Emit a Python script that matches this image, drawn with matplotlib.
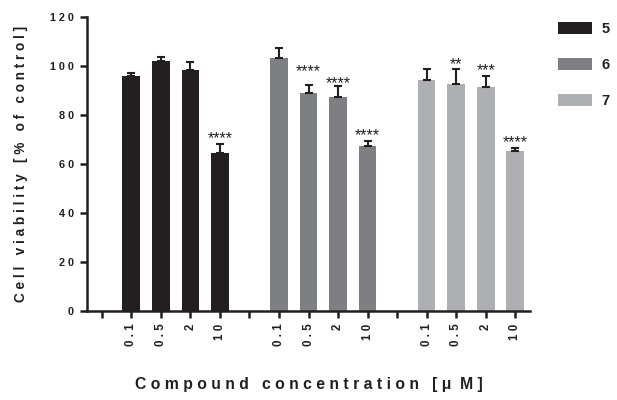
import matplotlib

matplotlib.use("Agg")
import matplotlib.pyplot as plt
import numpy as np

plt.rcParams["font.family"] = ["Liberation Sans", "DejaVu Sans"]

# data
compounds = ["5", "6", "7"]
concentrations = ["0.1", "0.5", "2", "10"]
means_5 = [96.0, 102.0, 98.2, 64.5]
means_6 = [103.3, 88.8, 87.3, 67.2]
means_7 = [94.4, 92.6, 91.4, 65.4]
err_5 = [1.0, 1.5, 3.3, 3.8]
err_6 = [4.2, 3.3, 4.4, 2.3]
err_7 = [4.3, 6.0, 4.6, 1.2]
stars_5 = ["", "", "", "****"]
stars_6 = ["", "****", "****", "****"]
stars_7 = ["", "**", "***", "****"]

colors = ["#231f20", "#7e7f83", "#aeafb2"]
ink = "#231f20"


def _spaced(text: str) -> str:
    return " ".join(text)


fig = plt.figure(figsize=(6.17, 4.0), dpi=100)
ax = fig.add_axes([87 / 617, 1 - 311 / 400, 443 / 617, 294 / 400])

all_means = [means_5, means_6, means_7]
all_errs = [err_5, err_6, err_7]
all_stars = [stars_5, stars_6, stars_7]

tick_pos = []
tick_lab = []
slot = 0
handles = []
for g, name in enumerate(compounds):
    tick_pos.append(slot)
    tick_lab.append("")
    slot += 1
    xs = np.arange(slot, slot + len(concentrations))
    bars = ax.bar(xs, all_means[g], width=0.6, color=colors[g], zorder=2)
    handles.append(bars)
    ax.errorbar(
        xs,
        all_means[g],
        yerr=[np.zeros(len(xs)), all_errs[g]],
        fmt="none",
        ecolor=ink,
        elinewidth=1.5,
        capsize=3,
        capthick=1.5,
        zorder=3,
    )
    stars = all_stars[g]
    tops = [m + e for m, e in zip(all_means[g], all_errs[g])]
    for i, x in enumerate(xs):
        label = stars[i]
        if label:
            lift = 0.3
            # stagger neighbouring wide labels that would collide
            if i + 1 < len(xs) and len(label) + len(stars[i + 1]) > 6 \
                    and abs(tops[i + 1] - tops[i]) < 3:
                lift += 3.5
            elif i > 0 and len(label) + len(stars[i - 1]) > 6 \
                    and abs(tops[i - 1] - tops[i]) < 3:
                lift -= 1.2
            ax.text(x, tops[i] + lift, label, ha="center", va="baseline",
                    fontsize=11.5, color=ink)
        tick_pos.append(x)
        tick_lab.append(_spaced(concentrations[i]))
    slot += len(concentrations)

ax.set_xlim(-0.5, slot - 0.5)
ax.set_ylim(0, 120)
ax.set_yticks(np.arange(0, 121, 20))
ax.set_yticklabels([_spaced(str(v)) for v in range(0, 121, 20)],
                   fontsize=7.8, fontweight="bold")
ax.set_xticks(tick_pos)
ax.set_xticklabels(tick_lab, rotation=90, fontsize=8.3, fontweight="bold",
                   va="top")

for side in ["top", "right"]:
    ax.spines[side].set_visible(False)
for side in ["left", "bottom"]:
    ax.spines[side].set_linewidth(1.8)
    ax.spines[side].set_color(ink)
ax.tick_params(axis="both", direction="out", length=5, width=1.8,
               color=ink, labelcolor=ink)
ax.tick_params(axis="x", pad=4)
ax.tick_params(axis="y", pad=4.5)

ax.set_ylabel("C e l l   v i a b i l i t y   [ %   o f   c o n t r o l ]",
              fontsize=9.8, fontweight="bold", color=ink, labelpad=16)
ax.set_xlabel("C o m p o u n d   c o n c e n t r a t i o n   [ μ  M ]",
              fontsize=11.3, fontweight="bold", color=ink, labelpad=22)

leg = fig.legend(
    handles,
    compounds,
    loc="upper left",
    bbox_to_anchor=(545 / 617, 1 - 9 / 400),
    frameon=False,
    prop={"weight": "bold", "size": 10.5},
    handlelength=2.3,
    handleheight=0.9,
    handletextpad=0.7,
    labelspacing=1.5,
)
for t in leg.get_texts():
    t.set_color(ink)

fig.savefig("out.png", dpi=100)
